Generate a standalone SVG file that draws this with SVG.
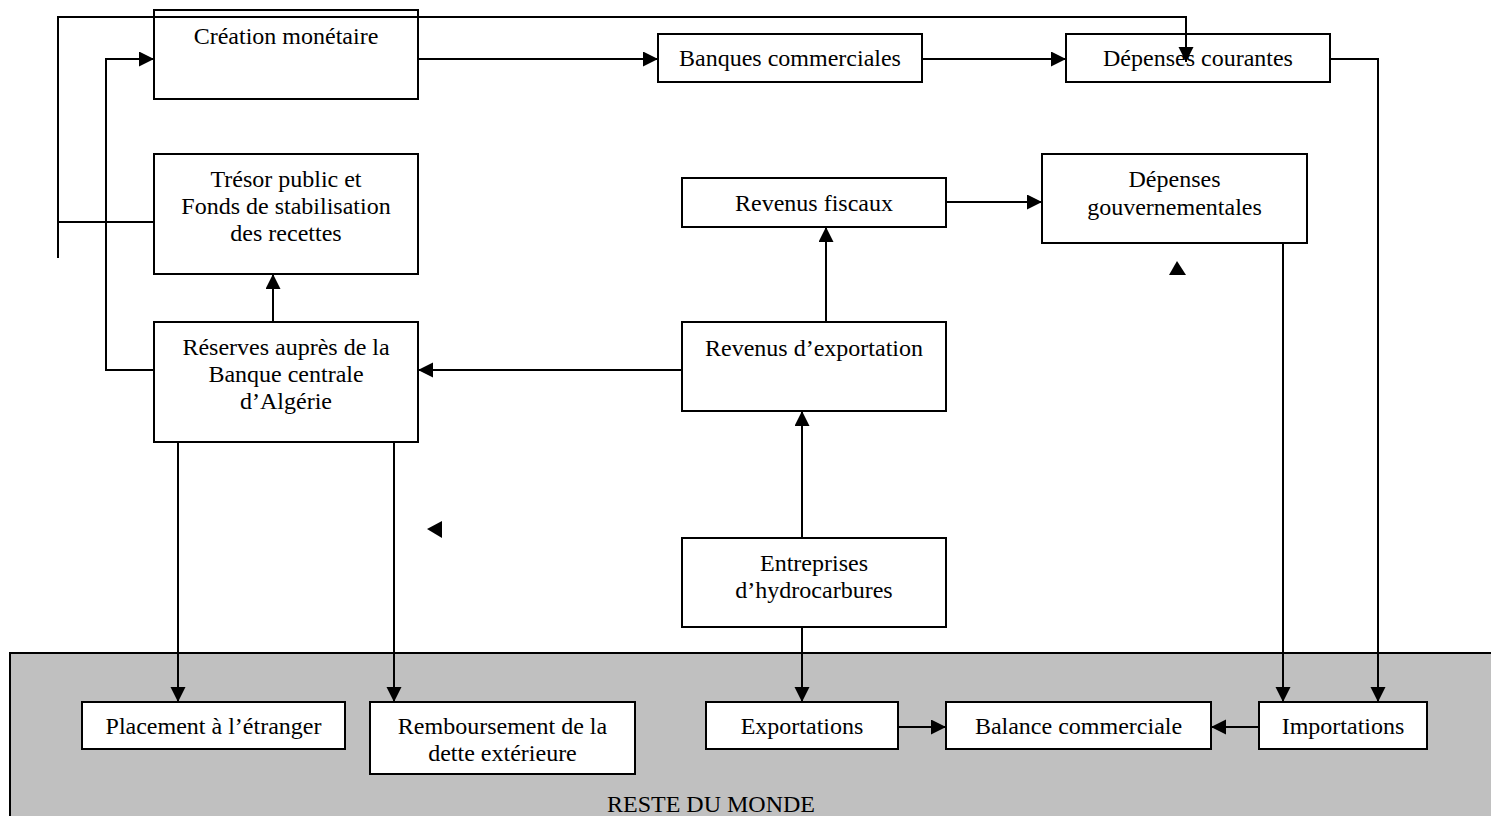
<svg xmlns="http://www.w3.org/2000/svg" width="1491" height="816" viewBox="0 0 1491 816">
<style>
.box{fill:#fff;stroke:#000;stroke-width:2}
.t{font-family:"Liberation Serif","Times New Roman",serif;font-size:24px;fill:#000;text-anchor:middle}
.c{fill:none;stroke:#000;stroke-width:2}
</style>
<defs>
<marker id="ah" markerUnits="userSpaceOnUse" markerWidth="16" markerHeight="16" refX="15" refY="7.5" orient="auto">
<path d="M0,0 L15,7.5 L0,15 Z" fill="#000"/>
</marker>
</defs>
<rect width="1491" height="816" fill="#fff"/>
<g id="reste-du-monde">
<rect x="10" y="653" width="1490" height="175" fill="#c0c0c0" stroke="#000" stroke-width="2"/>
<text class="t" x="711" y="812">RESTE DU MONDE</text>
</g>
<g id="creation"><rect class="box" x="154" y="10" width="264" height="89"/><text class="t" x="286" y="44">Création monétaire</text></g>
<g id="banques"><rect class="box" x="658" y="34" width="264" height="48"/><text class="t" x="790" y="66">Banques commerciales</text></g>
<g id="depcour"><rect class="box" x="1066" y="34" width="264" height="48"/><text class="t" x="1198" y="66">Dépenses courantes</text></g>
<g id="tresor"><rect class="box" x="154" y="154" width="264" height="120"/><text class="t" x="286" y="187">Trésor public et</text><text class="t" x="286" y="214">Fonds de stabilisation</text><text class="t" x="286" y="241">des recettes</text></g>
<g id="revfisc"><rect class="box" x="682" y="178" width="264" height="49"/><text class="t" x="814" y="211">Revenus fiscaux</text></g>
<g id="depgouv"><rect class="box" x="1042" y="154" width="265" height="89"/><text class="t" x="1174.5" y="187">Dépenses</text><text class="t" x="1174.5" y="215">gouvernementales</text></g>
<g id="reserves"><rect class="box" x="154" y="322" width="264" height="120"/><text class="t" x="286" y="355">Réserves auprès de la</text><text class="t" x="286" y="382">Banque centrale</text><text class="t" x="286" y="409">d’Algérie</text></g>
<g id="revexp"><rect class="box" x="682" y="322" width="264" height="89"/><text class="t" x="814" y="356">Revenus d’exportation</text></g>
<g id="entreprises"><rect class="box" x="682" y="538" width="264" height="89"/><text class="t" x="814" y="571">Entreprises</text><text class="t" x="814" y="598">d’hydrocarbures</text></g>
<g id="placement"><rect class="box" x="82" y="702" width="263" height="47"/><text class="t" x="213.5" y="734">Placement à l’étranger</text></g>
<g id="remboursement"><rect class="box" x="370" y="702" width="265" height="72"/><text class="t" x="502.5" y="734">Remboursement de la</text><text class="t" x="502.5" y="761">dette extérieure</text></g>
<g id="exportations"><rect class="box" x="706" y="702" width="192" height="47"/><text class="t" x="802" y="734">Exportations</text></g>
<g id="balance"><rect class="box" x="946" y="702" width="265" height="47"/><text class="t" x="1078.5" y="734">Balance commerciale</text></g>
<g id="importations"><rect class="box" x="1259" y="702" width="168" height="47"/><text class="t" x="1343" y="734">Importations</text></g>
<g id="connectors">
<path class="c" d="M58,258 V17 H1186 V62" marker-end="url(#ah)"/>
<path class="c" d="M58,222 H154"/>
<path class="c" d="M154,370 H106 V59 H154" marker-end="url(#ah)"/>
<path class="c" d="M418,59 H658" marker-end="url(#ah)"/>
<path class="c" d="M922,59 H1066" marker-end="url(#ah)"/>
<path class="c" d="M1330,59 H1378 V702" marker-end="url(#ah)"/>
<path class="c" d="M1283,243 V702" marker-end="url(#ah)"/>
<path class="c" d="M946,202 H1042" marker-end="url(#ah)"/>
<path class="c" d="M826,322 V227" marker-end="url(#ah)"/>
<path class="c" d="M682,370 H418" marker-end="url(#ah)"/>
<path class="c" d="M273,322 V274" marker-end="url(#ah)"/>
<path class="c" d="M802,538 V411" marker-end="url(#ah)"/>
<path class="c" d="M802,627 V702" marker-end="url(#ah)"/>
<path class="c" d="M178,442 V702" marker-end="url(#ah)"/>
<path class="c" d="M394,442 V702" marker-end="url(#ah)"/>
<path class="c" d="M898,727 H946" marker-end="url(#ah)"/>
<path class="c" d="M1259,727 H1211" marker-end="url(#ah)"/>
<path d="M1177,261 L1186,275 L1169,275 Z" fill="#000"/>
<path d="M427,529 L442,521 L442,538 Z" fill="#000"/>
</g>
</svg>
